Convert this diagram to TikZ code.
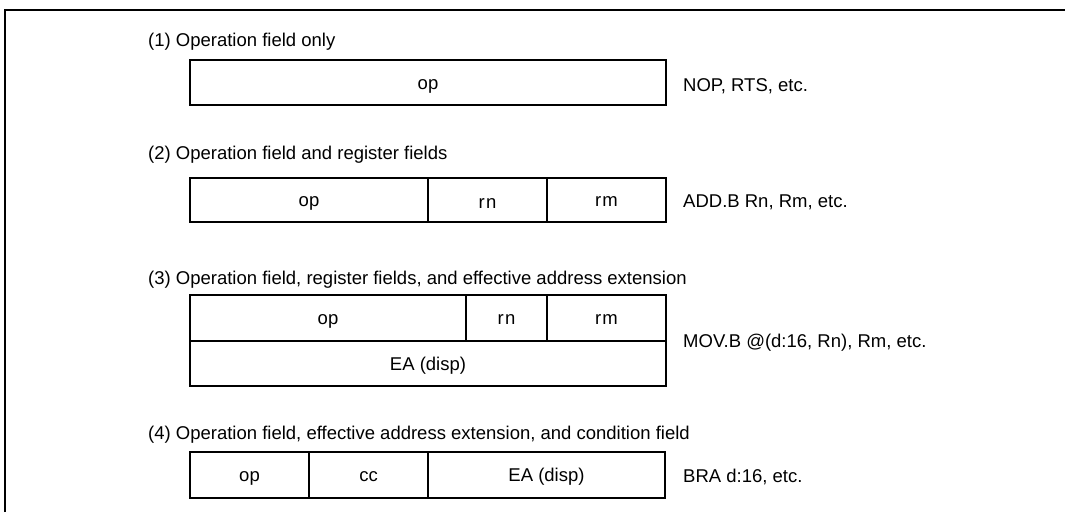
\documentclass[tikz,border=0pt]{standalone}
\usepackage{fontspec}
\setmainfont{Liberation Sans}
\begin{document}
\begin{tikzpicture}[x=1pt,y=-1pt,
  field/.style={draw, line width=2.2pt, inner sep=0pt, text height=13pt, text depth=0pt, font=\fontsize{18.5}{22}\selectfont},
  lowtext/.style={text height=17pt},
  lbl/.style={anchor=base west, inner sep=0pt, font=\fontsize{18.5}{22}\selectfont},
  frameline/.style={line width=2.8pt}]
\useasboundingbox (0,0) rectangle (1065,512);
\coordinate (fb) at (5,512);
\coordinate (fc) at (5,10);
\coordinate (fr) at (1066,10);
\draw[frameline] (fb) -- (fc) -- (fr);

% (1)
\node[lbl] (h1) at (148,46) {(1) Operation field only};
\node[field, minimum width=476pt, minimum height=45pt] (a1) at (428,82.5) {op};
\node[lbl] (l1) at (683,91) {NOP, RTS, etc.};

% (2)
\node[lbl] (h2) at (148,159) {(2) Operation field and register fields};
\node[field, minimum width=238pt, minimum height=44pt] (b1) at (309,200) {op};
\node[field, lowtext, minimum width=119pt, minimum height=44pt] (b2) at (487.5,200) {r\kern1.5pt n};
\node[field, minimum width=119pt, minimum height=44pt] (b3) at (606.5,200) {r\kern1pt m};
\node[lbl] (l2) at (683,207) {ADD.B Rn, Rm, etc.};

% (3)
\node[lbl] (h3) at (148,284) {(3) Operation field, register fields, and effective address extension};
\node[field, minimum width=276pt, minimum height=46pt] (c1) at (328,318) {op};
\node[field, minimum width=81pt, minimum height=46pt] (c2) at (506.5,318) {r\kern1.5pt n};
\node[field, minimum width=119pt, minimum height=46pt] (c3) at (606.5,318) {r\kern1pt m};
\node[field, minimum width=476pt, minimum height=45pt] (c4) at (428,363.5) {EA (disp)};
\node[lbl] (l3) at (683,347) {MOV.B @(d:16, Rn), Rm, etc.};

% (4)
\node[lbl] (h4) at (148,439) {(4) Operation field, effective address extension, and condition field};
\node[field, minimum width=119pt, minimum height=46pt] (d1) at (249.5,475) {op};
\node[field, minimum width=119pt, minimum height=46pt] (d2) at (368.5,475) {cc};
\node[field, minimum width=237pt, minimum height=46pt] (d3) at (546.5,475) {EA (disp)};
\node[lbl] (l4) at (683,482) {BRA d:16, etc.};
\end{tikzpicture}
\end{document}
